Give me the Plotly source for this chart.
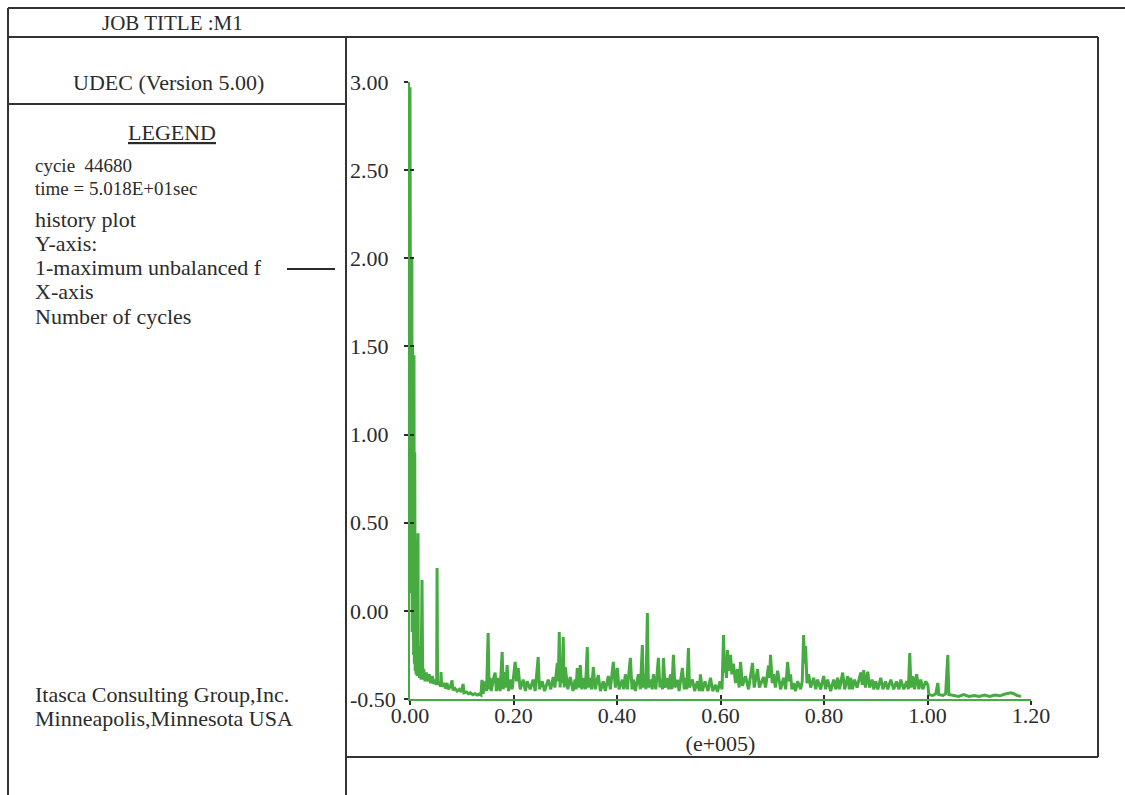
import plotly.graph_objects as go

W, H = 1125, 795
GREEN = "#46ab40"
INK = "#2b2b2b"
FONT = "Liberation Serif"

# ---- axis ticks ----
X_TICKS = [0.0, 0.2, 0.4, 0.6, 0.8, 1.0, 1.2]
X_TICK_TEXT = ["0.00", "0.20", "0.40", "0.60", "0.80", "1.00", "1.20"]
Y_TICKS = [-0.5, 0.0, 0.5, 1.0, 1.5, 2.0, 2.5, 3.0]
Y_TICK_TEXT = ["-0.50", "0.00", "0.50", "1.00", "1.50", "2.00", "2.50", "3.00"]
X_TITLE = "(e+005)"

# ---- history of maximum unbalanced force (x in e+005 cycles) ----
EARLY = [
    (0.0000, 2.97), (0.0006, 0.30), (0.0012, 2.90), (0.0018, 0.10), (0.0024, 1.84),
    (0.0030, -0.05), (0.0036, 2.00), (0.0042, -0.12), (0.0050, 1.50), (0.0056, -0.20),
    (0.0064, 1.30), (0.0070, -0.25), (0.0077, 1.45), (0.0084, -0.30), (0.0092, 0.90),
    (0.0100, -0.34), (0.0108, 0.40), (0.0116, -0.36), (0.0126, -0.10), (0.0136, -0.37),
    (0.0150, -0.30), (0.0155, 0.44), (0.0160, -0.37), (0.0172, -0.20), (0.0184, -0.38),
    (0.0198, -0.25), (0.0215, -0.39), (0.0232, 0.175), (0.0245, -0.39), (0.0265, -0.33),
    (0.0290, -0.40), (0.0315, -0.35), (0.0340, -0.40), (0.0370, -0.36), (0.0400, -0.41),
    (0.0430, -0.37), (0.0460, -0.415), (0.0490, -0.39), (0.0515, -0.42), (0.0523, 0.243),
    (0.0532, -0.42), (0.0560, -0.40), (0.0590, -0.43), (0.0600, -0.347), (0.0612, -0.43),
    (0.0650, -0.41), (0.0690, -0.44), (0.0716, -0.409), (0.0735, -0.445), (0.0780, -0.43),
    (0.0813, -0.395), (0.0830, -0.45), (0.0870, -0.44), (0.0910, -0.455), (0.0950, -0.445),
    (0.0990, -0.46), (0.1026, -0.415), (0.1045, -0.465), (0.1090, -0.46), (0.1130, -0.47),
    (0.1170, -0.465), (0.1210, -0.475), (0.1260, -0.47), (0.1300, -0.478), (0.1340, -0.472),
    (0.1372, -0.478), (0.1390, -0.392), (0.1413, -0.47),
]

MIDDLE = [
    (0.1452, -0.40), (0.1480, -0.455), (0.1510, -0.126), (0.1529, -0.445), (0.1548, -0.38),
    (0.1570, -0.455), (0.1610, -0.39), (0.1645, -0.35), (0.1670, -0.455), (0.1703, -0.38),
    (0.1740, -0.455), (0.1781, -0.233), (0.1800, -0.445), (0.1819, -0.347), (0.1850, -0.435),
    (0.1877, -0.307), (0.1905, -0.455), (0.1935, -0.39), (0.1974, -0.445), (0.2032, -0.29),
    (0.2060, -0.40), (0.2090, -0.324), (0.2129, -0.445), (0.2187, -0.39), (0.2230, -0.455),
    (0.2264, -0.40), (0.2322, -0.445), (0.2380, -0.39), (0.2419, -0.455), (0.2477, -0.262),
    (0.2500, -0.445), (0.2555, -0.40), (0.2600, -0.455), (0.2671, -0.39), (0.2720, -0.445),
    (0.2768, -0.375), (0.2800, -0.435), (0.2845, -0.296), (0.2865, -0.40), (0.2884, -0.120),
    (0.2900, -0.435), (0.2922, -0.319), (0.2940, -0.41), (0.2961, -0.148), (0.2980, -0.435),
    (0.3000, -0.32), (0.3050, -0.445), (0.3097, -0.375), (0.3150, -0.455), (0.3190, -0.39),
    (0.3210, -0.445), (0.3232, -0.324), (0.3260, -0.435), (0.3290, -0.307), (0.3320, -0.445),
    (0.3348, -0.38), (0.3390, -0.445), (0.3426, -0.205), (0.3445, -0.435), (0.3484, -0.38),
    (0.3510, -0.445), (0.3542, -0.319), (0.3580, -0.445), (0.3638, -0.364), (0.3680, -0.455),
    (0.3735, -0.40), (0.3774, -0.455), (0.3832, -0.37), (0.3871, -0.445), (0.3929, -0.29),
    (0.3968, -0.435), (0.4006, -0.324), (0.4040, -0.445), (0.4103, -0.39), (0.4130, -0.445),
    (0.4161, -0.36), (0.4200, -0.445), (0.4258, -0.267), (0.4290, -0.445), (0.4316, -0.39),
    (0.4355, -0.455), (0.4413, -0.36), (0.4451, -0.445), (0.4490, -0.194), (0.4510, -0.435),
    (0.4529, -0.36), (0.4560, -0.445), (0.4587, -0.012), (0.4606, -0.435), (0.4645, -0.39),
    (0.4680, -0.445), (0.4703, -0.36), (0.4750, -0.445), (0.4800, -0.267), (0.4830, -0.435),
    (0.4858, -0.39), (0.4880, -0.445), (0.4897, -0.267), (0.4930, -0.435), (0.4974, -0.38),
    (0.5000, -0.445), (0.5032, -0.36), (0.5060, -0.445), (0.5090, -0.250), (0.5120, -0.435),
    (0.5167, -0.39), (0.5200, -0.455), (0.5264, -0.324), (0.5300, -0.445), (0.5322, -0.38),
    (0.5350, -0.445), (0.5380, -0.211), (0.5400, -0.435), (0.5458, -0.39), (0.5500, -0.455),
    (0.5554, -0.40), (0.5590, -0.455), (0.5612, -0.36), (0.5650, -0.455), (0.5700, -0.40),
    (0.5760, -0.455), (0.5806, -0.38), (0.5850, -0.455), (0.5903, -0.42), (0.5942, -0.46),
    (0.5990, -0.40), (0.6030, -0.445), (0.6058, -0.137), (0.6080, -0.35), (0.6096, -0.30),
    (0.6115, -0.38), (0.6135, -0.222), (0.6155, -0.34), (0.6193, -0.25), (0.6220, -0.36),
    (0.6251, -0.30), (0.6290, -0.41), (0.6329, -0.33), (0.6360, -0.435), (0.6387, -0.29),
    (0.6425, -0.425), (0.6483, -0.37), (0.6541, -0.445), (0.6619, -0.296), (0.6650, -0.435),
    (0.6716, -0.33), (0.6750, -0.435), (0.6832, -0.375), (0.6870, -0.435), (0.6929, -0.31),
    (0.6950, -0.38), (0.6967, -0.25), (0.7000, -0.41), (0.7025, -0.36), (0.7060, -0.435),
    (0.7103, -0.34), (0.7161, -0.445), (0.7219, -0.38), (0.7260, -0.445), (0.7296, -0.29),
    (0.7330, -0.40), (0.7354, -0.36), (0.7380, -0.445), (0.7412, -0.41), (0.7450, -0.455),
    (0.7490, -0.40), (0.7548, -0.445), (0.7580, -0.40), (0.7606, -0.137), (0.7625, -0.30),
    (0.7645, -0.20), (0.7670, -0.41), (0.7703, -0.36), (0.7742, -0.435), (0.7800, -0.38),
    (0.7840, -0.445), (0.7877, -0.39), (0.7935, -0.445), (0.7993, -0.37), (0.8030, -0.445),
    (0.8070, -0.39), (0.8129, -0.455), (0.8187, -0.39), (0.8230, -0.445), (0.8264, -0.38),
    (0.8300, -0.445), (0.8361, -0.35), (0.8400, -0.445), (0.8458, -0.37), (0.8490, -0.445),
    (0.8516, -0.38), (0.8550, -0.445), (0.8590, -0.39), (0.8640, -0.435), (0.8709, -0.35),
    (0.8740, -0.42), (0.8767, -0.336), (0.8800, -0.435), (0.8845, -0.345), (0.8880, -0.435),
    (0.8930, -0.39), (0.8961, -0.445), (0.9000, -0.40), (0.9040, -0.445), (0.9096, -0.38),
    (0.9140, -0.445), (0.9190, -0.40), (0.9232, -0.445), (0.9290, -0.39), (0.9348, -0.445),
    (0.9400, -0.40), (0.9450, -0.445), (0.9483, -0.39), (0.9541, -0.445), (0.9600, -0.40),
    (0.9630, -0.445), (0.9657, -0.239), (0.9680, -0.435), (0.9715, -0.37), (0.9750, -0.445),
    (0.9790, -0.36), (0.9832, -0.445), (0.9870, -0.39), (0.9910, -0.445), (0.9967, -0.40),
    (1.0006, -0.42),
]

LATE = [
    (1.0025, -0.475), (1.0100, -0.48), (1.0160, -0.47), (1.0199, -0.409), (1.0219, -0.475),
    (1.0300, -0.48), (1.0350, -0.47), (1.0393, -0.25), (1.0412, -0.475), (1.0500, -0.48),
    (1.0600, -0.485), (1.0700, -0.475), (1.0800, -0.485), (1.0900, -0.48), (1.1000, -0.485),
    (1.1100, -0.478), (1.1200, -0.485), (1.1300, -0.478), (1.1400, -0.482), (1.1500, -0.472),
    (1.1612, -0.465), (1.1670, -0.47), (1.1730, -0.48), (1.1806, -0.485),
]

# ---- panel texts ----
JOB_TITLE = "JOB TITLE :M1"
CODE_NAME = "UDEC (Version 5.00)"
LEGEND_HEAD = "LEGEND"
SMALL_LINES = ["cycie  44680", "time = 5.018E+01sec"]
LEGEND_LINES = ["history plot", "Y-axis:", "1-maximum unbalanced f", "X-axis", "Number of cycles"]
FOOTER_LINES = ["Itasca Consulting Group,Inc.", "Minneapolis,Minnesota USA"]


def fx(p):
    return p / W


def fy(p):
    return 1 - p / H


pts = EARLY + MIDDLE + LATE
xs = [p[0] for p in pts]
ys = [p[1] for p in pts]

fig = go.Figure()
fig.add_trace(go.Scatter(x=xs, y=ys, mode="lines", line=dict(color=GREEN, width=3),
                         xaxis="x", yaxis="y", showlegend=False, hoverinfo="skip"))
# helper (empty) traces so that the extra tick / label axes are drawn
fig.add_trace(go.Scatter(x=[], y=[], xaxis="x", yaxis="y2", showlegend=False, hoverinfo="skip"))
fig.add_trace(go.Scatter(x=[], y=[], xaxis="x2", yaxis="y3", showlegend=False, hoverinfo="skip"))

x_dom = [fx(410), fx(1031)]
y_dom = [fy(699), fy(82)]
tickfont = dict(family=FONT, size=22, color=INK)

fig.update_layout(
    width=W, height=H,
    margin=dict(l=0, r=0, t=0, b=0),
    paper_bgcolor="white", plot_bgcolor="white",
    showlegend=False,
    xaxis=dict(domain=x_dom, range=[0, 1.2], tickvals=X_TICKS, ticktext=X_TICK_TEXT,
               ticks="outside", ticklen=4, tickwidth=2, tickcolor=INK, ticklabelstandoff=-8,
               showline=True, linecolor=GREEN, linewidth=2, showgrid=False, zeroline=False,
               tickfont=tickfont, anchor="y", automargin=False,
               title=dict(text=X_TITLE, font=tickfont, standoff=8)),
    yaxis=dict(domain=y_dom, range=[-0.5, 3.0], tickvals=Y_TICKS,
               ticks="outside", ticklen=4, tickwidth=2, tickcolor=INK, showticklabels=False,
               showline=True, linecolor=GREEN, linewidth=2, showgrid=False, zeroline=False,
               anchor="x", automargin=False),
    yaxis2=dict(overlaying="y", anchor="free", position=fx(346), side="left",
                range=[-0.5, 3.0], tickvals=Y_TICKS, ticktext=Y_TICK_TEXT,
                ticklabelposition="inside", ticklabeloverflow="allow", ticks="",
                showline=False, showgrid=False, zeroline=False, tickfont=tickfont,
                automargin=False),
    xaxis2=dict(overlaying="x", anchor="y", range=[0, 1.2], tickvals=X_TICKS,
                ticks="inside", ticklen=4, tickwidth=2, tickcolor=INK, showticklabels=False,
                showline=False, showgrid=False, zeroline=False, automargin=False),
    yaxis3=dict(overlaying="y", anchor="x", range=[-0.5, 3.0], tickvals=Y_TICKS,
                ticks="inside", ticklen=4, tickwidth=2, tickcolor=INK, showticklabels=False,
                showline=False, showgrid=False, zeroline=False, automargin=False),
)

# ---- frame lines ----
frame = [
    (8, 8, W, 8), (8, 8, 8, H), (8, 37, 1098, 37), (346, 37, 346, H),
    (8, 104, 346, 104), (1098, 37, 1098, 757), (346, 757, 1098, 757),
]
for x0, y0, x1, y1 in frame:
    fig.add_shape(type="line", xref="paper", yref="paper",
                  x0=fx(x0), y0=fy(y0), x1=fx(x1), y1=fy(y1),
                  line=dict(color="#333333", width=2))
# legend sample line
fig.add_shape(type="line", xref="paper", yref="paper",
              x0=fx(287), y0=fy(269), x1=fx(335), y1=fy(269),
              line=dict(color=INK, width=2))


def note(text, x, y, size, anchor="left"):
    fig.add_annotation(text=text, xref="paper", yref="paper", x=fx(x), y=fy(y),
                       xanchor=anchor, yanchor="middle", showarrow=False,
                       font=dict(family=FONT, size=size, color=INK))


note(JOB_TITLE, 172, 23, 21, "center")
note(CODE_NAME, 168, 83, 22, "center")
note("<u>" + LEGEND_HEAD + "</u>", 172, 133, 22, "center")
for t, y in zip(SMALL_LINES, [166, 189]):
    note(t, 33, y, 19)
for t, y in zip(LEGEND_LINES, [220, 244, 268, 292, 316]):
    note(t, 33, y, 22)
for t, y in zip(FOOTER_LINES, [694, 718]):
    note(t, 33, y, 22)

fig.write_html("out.html", config={"displayModeBar": False},
               post_script="document.body.style.margin='0';document.body.style.padding='0';")
